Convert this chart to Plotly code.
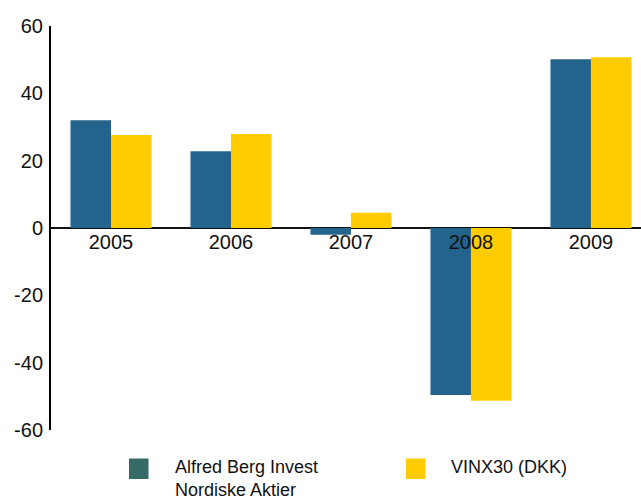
import plotly.graph_objects as go

# Annual returns (%)
years = ["2005", "2006", "2007", "2008", "2009"]
fund_returns = [32.0, 22.8, -2.0, -49.6, 50.1]
index_returns = [27.6, 27.9, 4.5, -51.3, 50.7]
y_ticks = [-60, -40, -20, 0, 20, 40, 60]
y_tick_text = ["-60", "-40", "-20", "0", "20", "40", "60"]

fund_name = "Alfred Berg Invest<br>Nordiske Aktier"
index_name = "VINX30 (DKK)"

bar_blue = "#24638C"
legend_teal = "#356A67"
bar_yellow = "#FFCC00"
font_family = "Liberation Sans, Arial, sans-serif"

fig = go.Figure()
fig.add_trace(go.Bar(x=years, y=fund_returns, name=fund_name,
                     marker=dict(color=bar_blue, line=dict(width=0)),
                     showlegend=False))
fig.add_trace(go.Bar(x=years, y=index_returns, name=index_name,
                     marker=dict(color=bar_yellow, line=dict(width=0)),
                     showlegend=False))

# Legend drawn below the plot area
legend_items = [
    (legend_teal, fund_name, (129 - 51) / 590, (174 - 51) / 590),
    (bar_yellow, index_name, (406 - 51) / 590, (450 - 51) / 590),
]
sq_w = 19.5 / 590
y_top = (430 - 458.5) / 404
y_bot = (430 - 479) / 404
for color, label, x0, tx in legend_items:
    fig.add_shape(type="rect", xref="paper", yref="paper",
                  x0=x0, x1=x0 + sq_w, y0=y_bot, y1=y_top,
                  fillcolor=color, line=dict(width=0))
    fig.add_annotation(xref="paper", yref="paper", x=tx, y=(430 - 456) / 404,
                       text=label, showarrow=False, xanchor="left", yanchor="top",
                       align="left", borderpad=0,
                       font=dict(family=font_family, size=18, color="#111111"))

fig.update_layout(
    width=641, height=499,
    margin=dict(l=51, r=0, t=26, b=69),
    paper_bgcolor="white", plot_bgcolor="white",
    barmode="group", bargap=0.325, bargroupgap=0,
    font=dict(family=font_family, size=20, color="#111111"),
    xaxis=dict(type="category", range=[-0.5, 4.417], anchor="free", position=0.5,
               showline=False, showgrid=False, ticks="", tickfont=dict(size=20),
               fixedrange=True),
    yaxis=dict(range=[-60, 60], tickvals=y_ticks, ticktext=y_tick_text, showgrid=False,
               showline=True, linecolor="black", linewidth=2,
               zeroline=True, zerolinecolor="#111111", zerolinewidth=2,
               ticks="", ticklabelstandoff=2, tickfont=dict(size=20)),
)

fig.write_html("out.html")
